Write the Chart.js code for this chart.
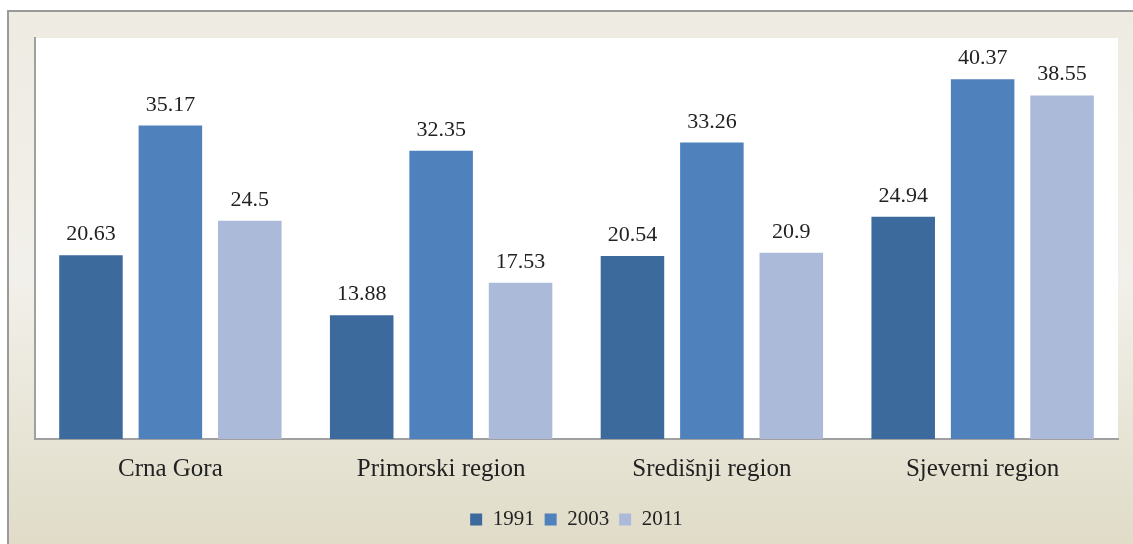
<!DOCTYPE html>
<html>
<head>
<meta charset="utf-8">
<script src="https://cdn.jsdelivr.net/npm/chart.js@4/dist/chart.umd.min.js"></script>
<style>
  html, body { margin: 0; padding: 0; background: #fff; }
  #wrap { width: 1133px; height: 544px; position: relative; }
</style>
</head>
<body>
<div id="wrap"><canvas id="myChart" width="1133" height="544"></canvas></div>
<script>
const categories = ['Crna Gora', 'Primorski region', 'Središnji region', 'Sjeverni region'];
const values1991 = [20.63, 13.88, 20.54, 24.94];
const values2003 = [35.17, 32.35, 33.26, 40.37];
const values2011 = [24.5, 17.53, 20.9, 38.55];
const seriesNames = ['1991', '2003', '2011'];

const serif = "'Liberation Serif', 'Times New Roman', serif";

// background frame + white plot area
const frame = {
  id: 'frame',
  beforeDraw(chart) {
    const ctx = chart.ctx;
    const a = chart.chartArea;
    ctx.save();
    ctx.fillStyle = '#fff';
    ctx.fillRect(0, 0, chart.width, chart.height);
    const g = ctx.createLinearGradient(0, 12, 0, chart.height);
    g.addColorStop(0, '#edebe2');
    g.addColorStop(0.5, '#f2f0ea');
    g.addColorStop(1, '#e0dcc8');
    ctx.fillStyle = g;
    ctx.fillRect(8, 11, chart.width - 8, chart.height - 11);
    ctx.strokeStyle = '#9a9a9a';
    ctx.lineWidth = 2;
    ctx.beginPath();
    ctx.moveTo(8, chart.height);
    ctx.lineTo(8, 11);
    ctx.lineTo(chart.width, 11);
    ctx.stroke();
    ctx.fillStyle = '#fff';
    ctx.fillRect(a.left, a.top, a.right - a.left, a.bottom - a.top);
    ctx.restore();
  }
};

// value labels above bars
const barLabels = {
  id: 'barLabels',
  afterDatasetsDraw(chart) {
    const ctx = chart.ctx;
    ctx.save();
    ctx.font = '22px ' + serif;
    ctx.fillStyle = '#222';
    ctx.textAlign = 'center';
    ctx.textBaseline = 'alphabetic';
    chart.data.datasets.forEach((ds, i) => {
      chart.getDatasetMeta(i).data.forEach((bar, j) => {
        ctx.fillText(String(ds.data[j]), bar.x, bar.y - 15);
      });
    });
    ctx.restore();
  }
};

new Chart(document.getElementById('myChart').getContext('2d'), {
  type: 'bar',
  data: {
    labels: categories,
    datasets: [
      { label: seriesNames[0], data: values1991, backgroundColor: '#3d6a9d' },
      { label: seriesNames[1], data: values2003, backgroundColor: '#4f81bd' },
      { label: seriesNames[2], data: values2011, backgroundColor: '#aabad8' }
    ]
  },
  options: {
    responsive: false,
    animation: false,
    layout: { padding: { top: 38, left: 35, right: 15, bottom: 4 } },
    datasets: { bar: { categoryPercentage: 0.88, barPercentage: 0.8 } },
    scales: {
      x: {
        grid: { display: false, drawTicks: false },
        border: { display: true, color: '#a0a0a0', width: 2 },
        ticks: { font: { family: serif, size: 25 }, color: '#222', padding: 15 }
      },
      y: {
        min: 0,
        max: 45,
        grid: { display: false, drawTicks: false },
        border: { display: true, color: '#a0a0a0', width: 2 },
        ticks: { display: false }
      }
    },
    plugins: {
      legend: {
        position: 'bottom',
        labels: {
          font: { family: serif, size: 21 },
          color: '#222',
          boxWidth: 12,
          boxHeight: 12,
          padding: 10
        }
      },
      tooltip: { enabled: false }
    }
  },
  plugins: [frame, barLabels]
});
</script>
</body>
</html>
